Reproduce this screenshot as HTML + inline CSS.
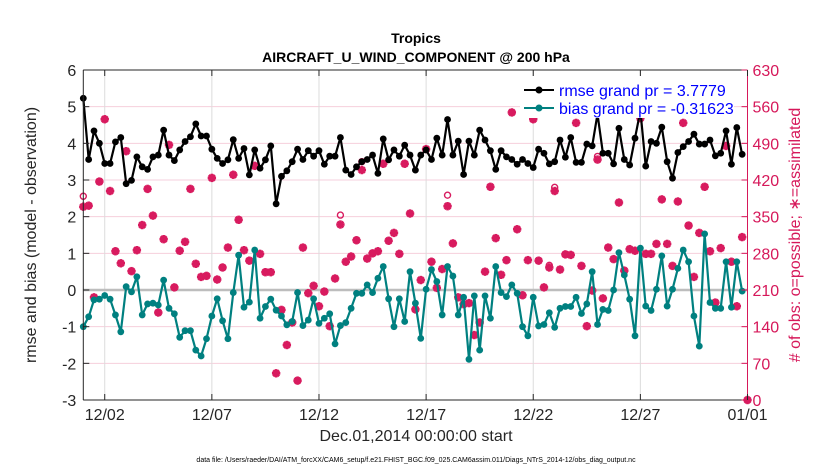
<!DOCTYPE html>
<html><head><meta charset="utf-8">
<style>
html,body{margin:0;padding:0;background:#fff;}
svg{display:block;font-family:"Liberation Sans",sans-serif;}
</style></head>
<body>
<svg id="chart" width="830" height="470" viewBox="0 0 830 470" xmlns="http://www.w3.org/2000/svg">
<rect x="0" y="0" width="830" height="470" fill="#fff"/>
<text x="416" y="43" text-anchor="middle" font-size="14" font-weight="bold">Tropics</text>
<text x="416" y="62" text-anchor="middle" font-size="14" font-weight="bold">AIRCRAFT_U_WIND_COMPONENT @ 200 hPa</text>
<g id="grid"></g>
<g id="marks"></g>
<g id="axes"></g>
<text x="416" y="441" text-anchor="middle" font-size="16" fill="#262626">Dec.01,2014 00:00:00 start</text>
<text transform="translate(36,235) rotate(-90)" text-anchor="middle" font-size="16" fill="#262626">rmse and bias (model - observation)</text>
<text transform="translate(800,235) rotate(-90)" text-anchor="middle" font-size="16" fill="#d6185a"># of obs: o=possible; ∗=assimilated</text>
<text x="416" y="462" text-anchor="middle" font-size="7" fill="#000">data file: /Users/raeder/DAI/ATM_forcXX/CAM6_setup/f.e21.FHIST_BGC.f09_025.CAM6assim.011/Diags_NTrS_2014-12/obs_diag_output.nc</text>
<g id="legend">
  <rect x="520" y="76" width="214" height="42" fill="#fff"/>
  <line x1="524" y1="90" x2="554" y2="90" stroke="#000" stroke-width="2"/>
  <circle cx="539" cy="90" r="3.5" fill="#000"/>
  <text x="559" y="96" font-size="16" fill="#0000ff">rmse grand pr = 3.7779</text>
  <line x1="524" y1="108" x2="554" y2="108" stroke="#008080" stroke-width="2"/>
  <circle cx="539" cy="108" r="3.5" fill="#008080"/>
  <text x="559" y="114" font-size="16" fill="#0000ff">bias grand pr = -0.31623</text>
</g>
</svg>
<script>
const rmse = [5.23,3.56,4.34,4.0,3.45,3.45,4.04,4.16,2.9,2.99,3.63,3.36,3.29,3.63,3.68,4.36,3.68,3.53,3.82,4.05,4.18,4.53,4.2,4.2,3.84,3.59,3.45,3.55,4.1,3.59,3.86,3.14,3.82,3.32,3.55,3.93,2.35,3.1,3.25,3.5,3.84,
3.56,3.8,3.65,3.8,3.43,3.65,3.65,4.16,3.27,3.15,3.36,3.5,3.56,3.68,3.18,4.12,3.55,3.82,3.65,3.95,3.68,3.27,3.68,3.82,3.56,4.14,3.68,4.65,3.68,4.06,3.15,4.06,3.68,4.36,4.09,3.8,3.29,3.8,3.63,3.56,3.43,3.56,3.45,
3.34,3.84,3.73,3.44,3.5,4.09,3.62,4.16,3.48,3.48,3.98,3.93,4.8,3.73,3.73,3.44,4.41,3.56,3.41,4.14,4.89,3.38,4.05,4.0,4.44,3.5,3.05,3.75,3.91,4.05,4.25,3.98,3.98,4.09,3.66,3.73,4.34,3.43,4.43,3.7];
const bias = [-1.0,-0.73,-0.27,-0.25,-0.15,-0.25,-0.68,-1.14,0.09,-0.05,0.36,-0.68,-0.38,-0.36,-0.41,0.27,-0.5,-0.65,-1.29,-1.11,-1.11,-1.64,-1.8,-1.33,-0.71,-0.24,-0.84,-1.33,-0.07,0.95,-0.47,-0.33,1.09,-0.77,-0.45,-0.25,-0.55,-0.71,-0.95,-0.86,-0.07,
-0.97,-0.82,-0.24,-0.91,-0.77,-0.65,-1.47,-0.97,-0.89,-0.5,-0.09,-0.09,0.14,-0.07,0.32,0.64,-0.24,-1.0,-0.24,-0.86,0.5,-0.36,-1.32,0.02,0.56,0.23,-0.68,0.64,0.38,-0.68,-0.2,-1.89,-0.16,-1.64,-0.16,-0.77,0.64,-0.07,-0.18,0.14,-0.09,-1.0,-1.25,
-0.2,-0.98,-0.94,-0.62,-1.02,-0.5,-0.45,-0.45,-0.2,-0.64,-0.38,0.5,-0.94,-0.53,-0.56,0.0,1.02,0.41,-0.25,-1.25,1.14,-0.44,-0.56,0.02,0.93,-0.44,0.02,0.59,1.09,0.77,-0.71,-1.53,1.53,-0.34,-0.5,-0.5,0.77,-0.47,0.77,-0.03];
const nAssim = [369,371,196,417,536,399,284,261,475,246,286,334,403,352,167,307,487,215,285,302,403,260,235,237,424,230,253,291,430,344,286,266,447,279,244,244,51,172,105,148,37,
291,204,218,179,207,141,232,335,264,274,305,439,270,280,284,451,304,319,279,451,356,173,229,479,264,214,250,370,299,196,183,185,124,148,245,407,309,239,267,549,326,200,267,
536,266,215,253,399,249,278,277,529,256,141,209,459,194,291,269,377,247,288,285,538,279,279,298,383,298,256,379,529,333,235,319,407,284,186,290,485,264,179,311,0];
const nPossExtra = {0:20,48:18,52:16,68:21,87:4,88:7,96:6};
const xTickLabels = ["12/02","12/07","12/12","12/17","12/22","12/27","01/01"];
const xTickDays = [1,6,11,16,21,26,31];
const yLeftTicks = [-3,-2,-1,0,1,2,3,4,5,6];
const yRightTicks = [0,70,140,210,280,350,420,490,560,630];

const NS="http://www.w3.org/2000/svg";
const L=83.3,R=747.5,T=70,B=400;
const xDay=d=>L+(d/31)*(R-L);
const xIdx=i=>xDay(i*0.25);
const yL=v=>B-(v+3)/9*(B-T);
const yR=c=>B-c/630*(B-T);
function mk(tag,attrs,parent){const e=document.createElementNS(NS,tag);for(const k in attrs)e.setAttribute(k,attrs[k]);parent.appendChild(e);return e;}
const grid=document.getElementById('grid'),marks=document.getElementById('marks'),axes=document.getElementById('axes');

yLeftTicks.forEach(v=>{if(v===-3||v===6||v===0)return;
  const g=mk('line',{x1:L,x2:R,y1:yL(v),y2:yL(v),stroke:'#f6cfdc','stroke-width':1},grid);
  
  
});
xTickDays.forEach(d=>{
  const g=mk('line',{x1:xDay(d),x2:xDay(d),y1:T,y2:B,stroke:'#dcdcdc','stroke-width':1},grid);
  
  
});
const z=mk('line',{x1:L,x2:R,y1:yL(0),y2:yL(0),stroke:'#bdbdbd','stroke-width':2.5},grid);



// obs count markers
nAssim.forEach((c,i)=>{
  const x=xIdx(i),y=yR(c);
  const g=mk('g',{},marks);
  
  
  const col='#d81b5f';
  for(let a=0;a<4;a++){const ang=a*Math.PI/4;const dx=4.2*Math.cos(ang),dy=4.2*Math.sin(ang);
    mk('line',{x1:x-dx,y1:y-dy,x2:x+dx,y2:y+dy,stroke:col,'stroke-width':2.6},g);}
  mk('circle',{cx:x,cy:y,r:2.6,fill:col},g);
  const p=c+(nPossExtra[i]||0);
  mk('circle',{cx:x,cy:yR(p),r:3,fill:'none',stroke:col,'stroke-width':1.4},g);
});

function series(vals,color,name){
  const pts=vals.map((v,i)=>xIdx(i).toFixed(1)+','+yL(v).toFixed(1)).join(' ');
  const pl=mk('polyline',{points:pts,fill:'none',stroke:color,'stroke-width':2.2,'stroke-linejoin':'round'},marks);
  
  
  vals.forEach((v,i)=>{
    const c=mk('circle',{cx:xIdx(i),cy:yL(v),r:3.4,fill:color},marks);
    
    
  });
}
series(rmse,'#000','rmse');
series(bias,'#008080','bias');

// axes frame
mk('line',{x1:L,x2:R,y1:T,y2:T,stroke:'#262626','stroke-width':1},axes);
mk('line',{x1:L,x2:R,y1:B,y2:B,stroke:'#262626','stroke-width':1},axes);
mk('line',{x1:L,x2:L,y1:T,y2:B,stroke:'#262626','stroke-width':1},axes);
mk('line',{x1:R,x2:R,y1:T,y2:B,stroke:'#d6185a','stroke-width':1},axes);
yLeftTicks.forEach(v=>{
  mk('line',{x1:L,x2:L+6,y1:yL(v),y2:yL(v),stroke:'#262626'},axes);
  const t=mk('text',{x:L-7,y:yL(v)+6,'text-anchor':'end','font-size':16,fill:'#262626'},axes);
  t.textContent=v;
  
  
});
yRightTicks.forEach(c=>{
  mk('line',{x1:R-6,x2:R,y1:yR(c),y2:yR(c),stroke:'#d6185a'},axes);
  const t=mk('text',{x:R+5,y:yR(c)+6,'font-size':16,fill:'#d6185a'},axes);
  t.textContent=c;
  
  
});
xTickDays.forEach((d,k)=>{
  mk('line',{x1:xDay(d),x2:xDay(d),y1:B,y2:B-6,stroke:'#262626'},axes);
  mk('line',{x1:xDay(d),x2:xDay(d),y1:T,y2:T+6,stroke:'#262626'},axes);
  const t=mk('text',{x:xDay(d),y:B+20,'text-anchor':'middle','font-size':16,fill:'#262626'},axes);
  t.textContent=xTickLabels[k];
  
  
});
// legend on top
document.getElementById('chart').appendChild(document.getElementById('legend'));
</script>
</body></html>
